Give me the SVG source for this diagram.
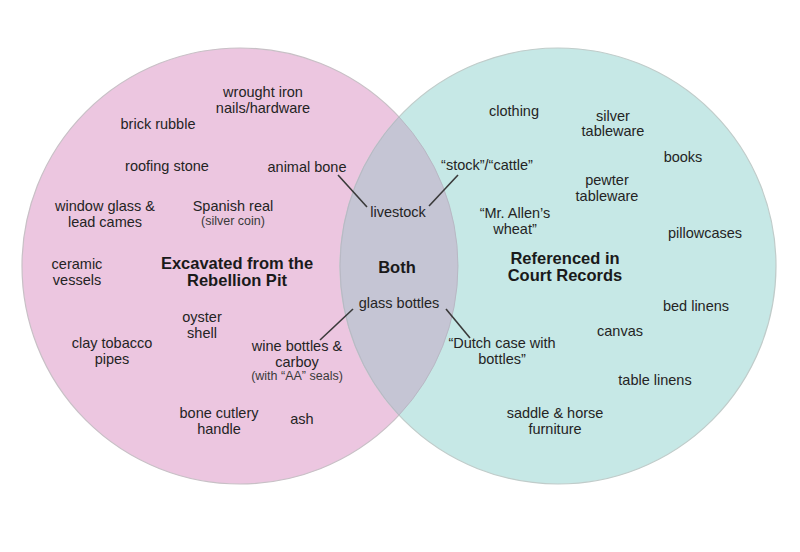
<svg xmlns="http://www.w3.org/2000/svg" width="800" height="552" viewBox="0 0 800 552">
<style>
text{font-family:"Liberation Sans",Arial,sans-serif;font-size:14.5px;fill:#242424;text-anchor:middle}
.b{font-weight:bold;font-size:16.5px;fill:#1a1a1a}
.s{font-size:12.5px;fill:#3a3a3a}
.c{stroke:#3a3a3a;stroke-width:1.6;fill:none}
</style>
<rect width="800" height="552" fill="#ffffff"/>
<g id="excavated">
<circle cx="240" cy="266" r="218" fill="#ecc6e0" stroke="#c8c0c6" stroke-width="1.2"/>
</g>
<g id="referenced">
<circle cx="558" cy="266" r="218" fill="#c6e8e6" stroke="#c0ccca" stroke-width="1.2"/>
</g>
<g id="both">
<path d="M399,116.9 A218,218 0 0 1 399,415.1 A218,218 0 0 1 399,116.9 Z" fill="#c5c5d4" stroke="#b8b8c4" stroke-width="1"/>
</g>
<g id="connectors">
<line class="c" x1="338" y1="175" x2="367" y2="207"/>
<line class="c" x1="458" y1="175" x2="429" y2="206"/>
<line class="c" x1="353" y1="309" x2="320" y2="340"/>
<line class="c" x1="446" y1="309" x2="470" y2="338"/>
</g>
<g id="labels-left">
<text x="263" y="96.5">wrought iron</text>
<text x="263" y="112.5">nails/hardware</text>
<text x="158" y="129">brick rubble</text>
<text x="167" y="171">roofing stone</text>
<text x="307" y="172">animal bone</text>
<text x="105" y="211">window glass &amp;</text>
<text x="105" y="227">lead cames</text>
<text x="233" y="210.5">Spanish real</text>
<text class="s" x="233" y="224.5">(silver coin)</text>
<text x="77" y="268.5">ceramic</text>
<text x="77" y="284.5">vessels</text>
<text class="b" x="237" y="269">Excavated from the</text>
<text class="b" x="237" y="286">Rebellion Pit</text>
<text x="202" y="321.5">oyster</text>
<text x="202" y="337.5">shell</text>
<text x="112" y="347.5">clay tobacco</text>
<text x="112" y="363.5">pipes</text>
<text x="297" y="350.5">wine bottles &amp;</text>
<text x="297" y="366.5">carboy</text>
<text class="s" x="297" y="380">(with “AA” seals)</text>
<text x="219" y="417.5">bone cutlery</text>
<text x="219" y="433.5">handle</text>
<text x="302" y="424">ash</text>
</g>
<g id="labels-both">
<text x="398" y="217">livestock</text>
<text class="b" x="397" y="273">Both</text>
<text x="399" y="308">glass bottles</text>
</g>
<g id="labels-right">
<text x="514" y="116">clothing</text>
<text x="613" y="121">silver</text>
<text x="613" y="136">tableware</text>
<text x="683" y="162">books</text>
<text x="487" y="170">“stock”/“cattle”</text>
<text x="607" y="185">pewter</text>
<text x="607" y="201">tableware</text>
<text x="515" y="217.5">“Mr. Allen’s</text>
<text x="515" y="233.5">wheat”</text>
<text x="705" y="238">pillowcases</text>
<text class="b" x="565" y="264">Referenced in</text>
<text class="b" x="565" y="281">Court Records</text>
<text x="696" y="311">bed linens</text>
<text x="620" y="336">canvas</text>
<text x="502" y="348">“Dutch case with</text>
<text x="502" y="364">bottles”</text>
<text x="655" y="385">table linens</text>
<text x="555" y="417.5">saddle &amp; horse</text>
<text x="555" y="433.5">furniture</text>
</g>
</svg>
